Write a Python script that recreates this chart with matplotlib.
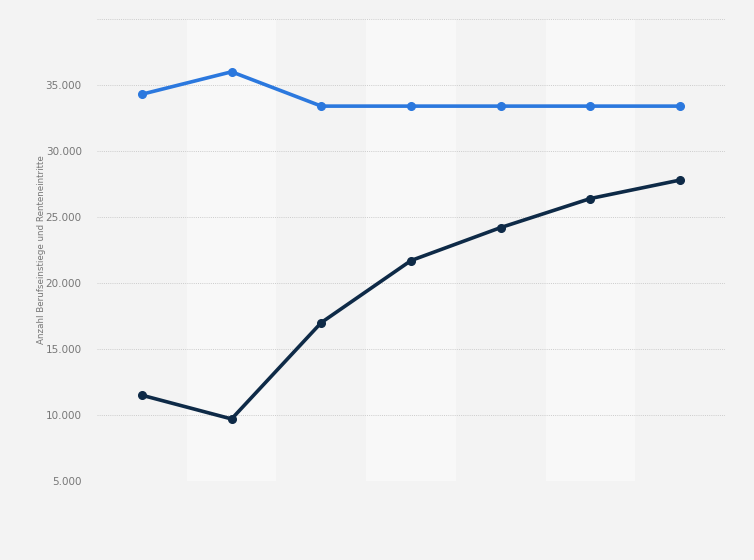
import numpy as np
import matplotlib.pyplot as plt
from matplotlib.ticker import FuncFormatter

# categories (no labels shown in the chart)
categories = ['1', '2', '3', '4', '5', '6', '7']
renteneintritte = [34300, 36000, 33400, 33400, 33400, 33400, 33400]
berufseinstiege = [11500, 9700, 17000, 21700, 24200, 26400, 27800]
yticks = [5000, 10000, 15000, 20000, 25000, 30000, 35000, 40000]

bg = '#f3f3f3'
fig = plt.figure(figsize=(7.54, 5.6), dpi=100, facecolor=bg)
ax = fig.add_axes([97 / 754, 1 - 481 / 560, 628 / 754, 462 / 560])
ax.set_facecolor(bg)

x = np.arange(len(categories))
# alternating light column bands
for i in x:
    if i % 2 == 1:
        ax.axvspan(i - 0.5, i + 0.5, color='#f8f8f8', zorder=0, lw=0)

ax.plot(x, renteneintritte, color='#2b78de', lw=2.6, marker='o', ms=5.5, zorder=3)
ax.plot(x, berufseinstiege, color='#0e2a47', lw=2.6, marker='o', ms=5.5, zorder=3)

ax.set_xlim(-0.5, len(categories) - 0.5)
ax.set_ylim(5000, 40000)
ax.set_yticks(yticks)
ax.yaxis.set_major_formatter(FuncFormatter(
    lambda v, p: '' if v == 40000 else f'{int(v):,}'.replace(',', '.')))
ax.set_xticks([])
ax.grid(axis='y', color='#cccccc', ls=(0, (1, 1.2)), lw=0.7, zorder=1)
ax.tick_params(axis='y', length=0, pad=11, labelsize=7.5, labelcolor='#777777')
for s in ax.spines.values():
    s.set_visible(False)
ax.set_ylabel('Anzahl Berufseinstiege und Renteneintritte', fontsize=6.3,
              color='#777777', labelpad=0)

fig.savefig('out.png', dpi=100, facecolor=bg)
